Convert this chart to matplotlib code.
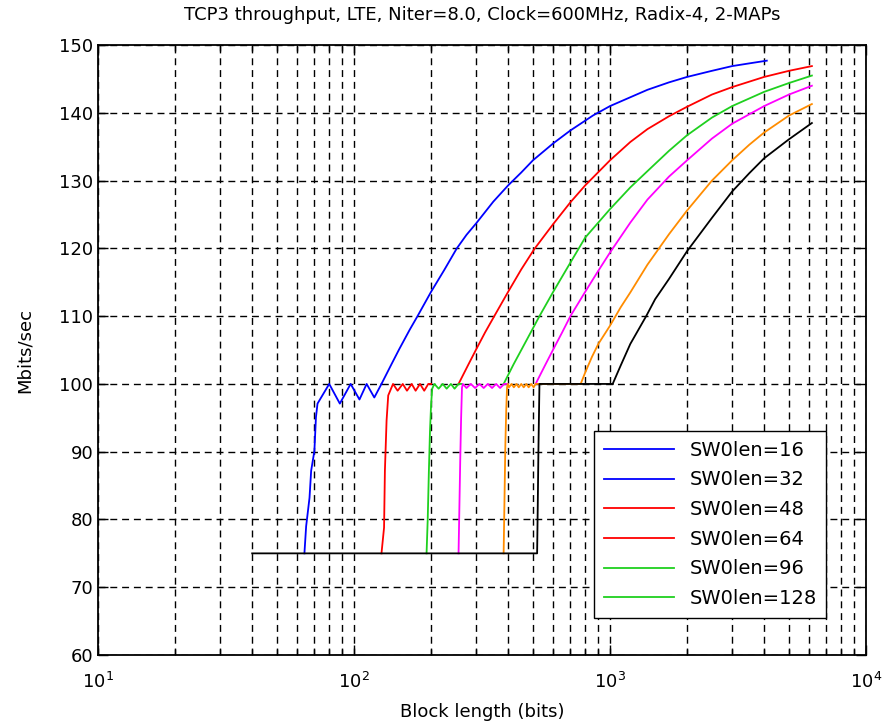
import matplotlib
matplotlib.use('Agg')
import matplotlib.pyplot as plt
from matplotlib.ticker import LogLocator, NullFormatter

# legend labels (MATLAB picked the first 6 line handles)
sw0_labels = ['SW0len=16', 'SW0len=32', 'SW0len=48', 'SW0len=64', 'SW0len=96', 'SW0len=128']

# SW0len=16 (blue)
blue_low_x = [64, 65, 67, 68, 70, 71, 72, 80, 88, 97, 105, 112, 120, 128]
blue_low_y = [75, 79, 83.2, 87.2, 90.1, 95.1, 97.1, 100, 97.1, 100, 97.7, 100, 98.0, 100]
blue_high_x = [128, 140, 150, 165, 177, 200, 225, 252, 275, 300, 350, 400, 450, 500, 600, 700,
               857, 1000, 1200, 1400, 1700, 2000, 2500, 3000, 3500, 4096]
blue_high_y = [100, 102.9, 105.1, 108.0, 110, 113.6, 116.8, 120, 122, 123.7, 126.9, 129.3, 131.2, 133.0,
               135.5, 137.4, 139.6, 141.0, 142.3, 143.4, 144.5, 145.3, 146.2, 146.9, 147.3, 147.7]

# SW0len=32 (red)
red_low_x = [128, 131, 132, 134, 136, 142, 148, 155, 161, 168, 174, 181, 188, 195, 200]
red_low_y = [75, 78.8, 87.2, 94.6, 98.3, 100, 99.0, 100, 99.0, 100, 99.0, 100, 99.0, 100, 100]
red_high_x = [256, 280, 300, 325, 353, 400, 450, 506, 600, 700, 800, 1000, 1200, 1400, 1700, 2000,
              2500, 3000, 4000, 5000, 6144]
red_high_y = [100, 102.9, 105.1, 107.6, 110, 113.6, 116.9, 119.9, 123.6, 126.8, 129.3, 133.0, 135.7,
              137.6, 139.5, 140.9, 142.7, 143.8, 145.3, 146.2, 146.9]

# SW0len=48 (green)
green_low_x = [192, 194, 196, 198, 200, 202, 206, 214, 222, 230, 239, 247, 256, 264]
green_low_y = [75, 80, 87, 93, 97, 99.3, 100, 99.3, 100, 99.3, 100, 99.3, 100, 100]
green_high_x = [384, 420, 450, 490, 530, 600, 700, 800, 1000, 1200, 1400, 1700, 2000, 2500, 3000,
                4000, 5000, 6144]
green_high_y = [100, 102.9, 105, 107.6, 110, 113.6, 117.9, 121.6, 125.8, 129.0, 131.4, 134.4, 136.7,
                139.3, 141.0, 143.1, 144.4, 145.5]

# SW0len=64 (magenta)
magenta_low_x = [256, 258, 260, 262, 264, 266, 275, 286, 297, 309, 321, 333, 346, 359, 372, 386, 399]
magenta_low_y = [75, 82, 89, 95, 99.4, 100, 99.4, 100, 99.4, 100, 99.4, 100, 99.4, 100, 99.4, 100, 100]
magenta_high_x = [512, 560, 600, 650, 700, 800, 900, 1000, 1200, 1400, 1700, 2000, 2500, 3000, 4000,
                  5000, 6144]
magenta_high_y = [100, 102.9, 105.1, 107.6, 110, 113.6, 116.7, 119.4, 123.8, 127.2, 130.6, 133.0,
                  136.2, 138.4, 141.0, 142.7, 144.0]

# SW0len=96 (orange)
orange_low_x = [384, 387, 390, 393, 396, 399, 403, 412, 421, 431, 440, 450, 460, 471, 481, 492, 503, 512, 768]
orange_low_y = [75, 83, 91, 96, 99.5, 100, 99.5, 100, 99.5, 100, 99.5, 100, 99.5, 100, 99.5, 100, 99.5, 100, 100]
orange_high_x = [768, 800, 850, 900, 1000, 1100, 1200, 1400, 1700, 2000, 2500, 3000, 3500, 4000, 5000, 6144]
orange_high_y = [100, 101.7, 104.0, 105.9, 108.6, 111.3, 113.5, 117.6, 122.1, 125.6, 130.0, 133.0,
                 135.3, 137.1, 139.6, 141.3]

# SW0len=128 (black)
black_low_x = [40, 519, 522, 525, 527, 530, 1024]
black_low_y = [75, 75, 82, 90, 94, 100, 100]
black_high_x = [1024, 1100, 1200, 1384, 1500, 1700, 2000, 2500, 3000, 3500, 4000, 5000, 6144]
black_high_y = [100, 102.7, 105.9, 110.0, 112.5, 115.5, 119.6, 124.5, 128.4, 131.1, 133.3, 136.1, 138.5]

series = [
    (blue_low_x, blue_low_y, blue_high_x, blue_high_y, '#0000ff'),
    (red_low_x, red_low_y, red_high_x, red_high_y, '#ff0000'),
    (green_low_x, green_low_y, green_high_x, green_high_y, '#1fd01f'),
    (magenta_low_x, magenta_low_y, magenta_high_x, magenta_high_y, '#ff00ff'),
    (orange_low_x, orange_low_y, orange_high_x, orange_high_y, '#ff8c00'),
    (black_low_x, black_low_y, black_high_x, black_high_y, '#000000'),
]

plt.rcParams['font.family'] = ['DejaVu Sans']

fig = plt.figure(figsize=(8.92, 7.27), dpi=100)
ax = fig.add_axes([0.1099, 0.099, 0.861, 0.839])

handles = []
for lx, ly, hx, hy, c in series:
    h1, = ax.plot(lx, ly, color=c, lw=1.3)
    h2, = ax.plot(hx, hy, color=c, lw=1.3)
    handles += [h1, h2]

ax.set_xscale('log')
ax.set_xlim(10, 10000)
ax.set_ylim(60, 150)
ax.set_yticks(range(60, 151, 10))
ax.xaxis.set_minor_locator(LogLocator(base=10, subs=range(2, 10)))
ax.xaxis.set_minor_formatter(NullFormatter())

ax.set_axisbelow(True)
ax.grid(True, which='major', axis='both', color='black', linestyle=(0, (5, 3.5)), linewidth=1.0)
ax.grid(True, which='minor', axis='x', color='black', linestyle=(0, (5, 3.5)), linewidth=1.0)

ax.tick_params(which='both', direction='in', top=True, right=True, labelsize=13)
ax.tick_params(which='major', length=7, width=1.0)
ax.tick_params(which='minor', length=4, width=1.0)
ax.tick_params(axis='x', which='major', pad=12)
for s in ax.spines.values():
    s.set_linewidth(1.3)

ax.set_title('TCP3 throughput, LTE, Niter=8.0, Clock=600MHz, Radix-4, 2-MAPs', fontsize=13, pad=18)
ax.set_xlabel('Block length (bits)', fontsize=13, labelpad=8)
ax.set_ylabel('Mbits/sec', fontsize=13, labelpad=18)

leg = ax.legend(handles[:6], sw0_labels, loc='lower right', bbox_to_anchor=(0.961, 0.045),
                fontsize=14, fancybox=False, framealpha=1, edgecolor='black',
                handlelength=3.6, labelspacing=0.55, borderpad=0.5)
leg.get_frame().set_linewidth(1.0)

plt.savefig('out.png', dpi=100)
